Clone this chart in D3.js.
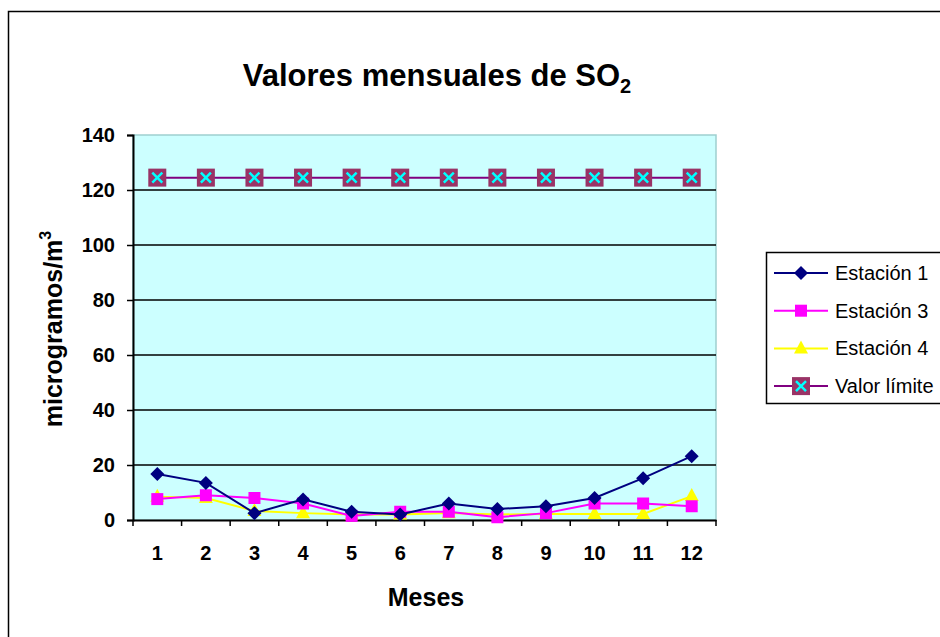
<!DOCTYPE html>
<html><head><meta charset="utf-8">
<script src="https://cdn.jsdelivr.net/npm/d3@7/dist/d3.min.js"></script>
<style>body{margin:0;background:#fff}svg{display:block;font-family:Arial,"Liberation Sans",sans-serif}</style>
</head><body>
<svg id="c" width="940" height="637"></svg>
<script>
const months = ["1","2","3","4","5","6","7","8","9","10","11","12"];
const estacion1 = [16.7,13.5,2.5,7.5,3,2,6,4,5,8,15.2,23.2];
const estacion3 = [7.6,9,8,6,1.5,3,3,1,2.5,6,6,5];
const estacion4 = [8.5,8,3.3,2.5,2,2,2.5,2,2.2,2.2,2.2,8.7];
const valorLimite = [124.5,124.5,124.5,124.5,124.5,124.5,124.5,124.5,124.5,124.5,124.5,124.5];
const yTicks = [0,20,40,60,80,100,120,140];
const seriesNames = ["Estación 1","Estación 3","Estación 4","Valor límite"];

const FONT = "Arial,'Liberation Sans',sans-serif";
const svg = d3.select("#c");
svg.append("rect").attr("x",8.5).attr("y",11.5).attr("width",960).attr("height",660)
  .attr("fill","none").attr("stroke","#000").attr("stroke-width",1.5);

const L=133, R=716, T=135, B=520;
const x = d3.scaleBand().domain(months).range([L,R]);
const y = d3.scaleLinear().domain([0,140]).range([B,T]);

svg.append("rect").attr("x",L).attr("y",T).attr("width",R-L).attr("height",B-T)
  .attr("fill","#ccffff").attr("stroke","#9fcfcf").attr("stroke-width",1.5);

svg.append("g").selectAll("line").data(yTicks.filter(d=>d>0&&d<140)).join("line")
  .attr("x1",L).attr("x2",R).attr("y1",d=>y(d)).attr("y2",d=>y(d))
  .attr("stroke","#000").attr("stroke-width",1.5);

const ya = svg.append("g").attr("transform",`translate(${L},0)`)
  .call(d3.axisLeft(y).tickValues(yTicks).tickSize(6).tickPadding(12));
ya.select(".domain").attr("stroke","#000").attr("stroke-width",2);
ya.selectAll(".tick line").attr("stroke","#000").attr("stroke-width",1.5);
ya.selectAll("text").attr("font-size",20).attr("font-weight","bold").attr("fill","#000").attr("font-family",FONT);

const xa = svg.append("g").attr("transform",`translate(0,${B})`)
  .call(d3.axisBottom(x).tickSize(0).tickPadding(26));
xa.select(".domain").attr("stroke","#000").attr("stroke-width",2);
xa.selectAll("text").attr("font-size",20).attr("font-weight","bold").attr("fill","#000").attr("font-family",FONT);
const bounds = months.map(m=>x(m)).concat([R]);
svg.append("g").selectAll("line").data(bounds).join("line")
  .attr("x1",d=>d).attr("x2",d=>d).attr("y1",B).attr("y2",B+6)
  .attr("stroke","#000").attr("stroke-width",1.5);

const cx = i => x(months[i]) + x.bandwidth()/2;
const line = d3.line().x((d,i)=>cx(i)).y(d=>y(d));

const series = [
  {vals:valorLimite,color:"#800080",mk:"lim"},
  {vals:estacion4,color:"#ffff00",mk:"tri"},
  {vals:estacion3,color:"#ff00ff",mk:"sq"},
  {vals:estacion1,color:"#000080",mk:"dia"}
];
function drawMarker(g,type,color,px,py){
  if(type==="dia") g.append("path").attr("d",`M${px},${py-7}L${px+7},${py}L${px},${py+7}L${px-7},${py}Z`).attr("fill","#000080");
  else if(type==="sq") g.append("rect").attr("x",px-6).attr("y",py-6).attr("width",12).attr("height",12).attr("fill","#ff00ff");
  else if(type==="tri") g.append("path").attr("d",`M${px},${py-8}L${px+7},${py+5}L${px-7},${py+5}Z`).attr("fill","#ffff00");
  else {
    g.append("rect").attr("x",px-9).attr("y",py-9).attr("width",18).attr("height",18).attr("fill","#993366");
    g.append("path").attr("d",`M${px-5},${py-5}L${px+5},${py+5}M${px+5},${py-5}L${px-5},${py+5}`).attr("stroke","#00ffff").attr("stroke-width",2.5);
  }
}
series.forEach(s=>{
  svg.append("path").datum(s.vals).attr("d",line).attr("fill","none").attr("stroke",s.color).attr("stroke-width",2);
  const g = svg.append("g");
  s.vals.forEach((v,i)=>drawMarker(g,s.mk,s.color,cx(i),y(v)));
});

// title
const title = svg.append("text").attr("x",437).attr("y",86).attr("text-anchor","middle")
  .attr("font-size",31).attr("font-weight","bold").attr("fill","#000");
title.append("tspan").text("Valores mensuales de SO");
title.append("tspan").attr("font-size",20).attr("dy",7).text("2");

const yl = svg.append("text").attr("transform","translate(62,329) rotate(-90)").attr("text-anchor","middle")
  .attr("font-size",25).attr("font-weight","bold").attr("fill","#000");
yl.append("tspan").text("microgramos/m");
yl.append("tspan").attr("font-size",16).attr("dy",-11).text("3");

svg.append("text").attr("x",426).attr("y",606).attr("text-anchor","middle")
  .attr("font-size",25).attr("font-weight","bold").attr("fill","#000").text("Meses");

// legend
const lg = svg.append("g");
lg.append("rect").attr("x",766.5).attr("y",252.5).attr("width",200).attr("height",151)
  .attr("fill","#fff").attr("stroke","#000").attr("stroke-width",1.5);
const legSeries = [
  {name:seriesNames[0],color:"#000080",mk:"dia"},
  {name:seriesNames[1],color:"#ff00ff",mk:"sq"},
  {name:seriesNames[2],color:"#ffff00",mk:"tri"},
  {name:seriesNames[3],color:"#800080",mk:"lim"}
];
legSeries.forEach((s,i)=>{
  const ly = 273 + i*37.7;
  lg.append("line").attr("x1",774).attr("x2",828).attr("y1",ly).attr("y2",ly).attr("stroke",s.color).attr("stroke-width",2);
  drawMarker(lg,s.mk,s.color,801,ly);
  lg.append("text").attr("x",835).attr("y",ly+7).attr("font-size",20).attr("fill","#000").text(s.name);
});
</script>
</body></html>
